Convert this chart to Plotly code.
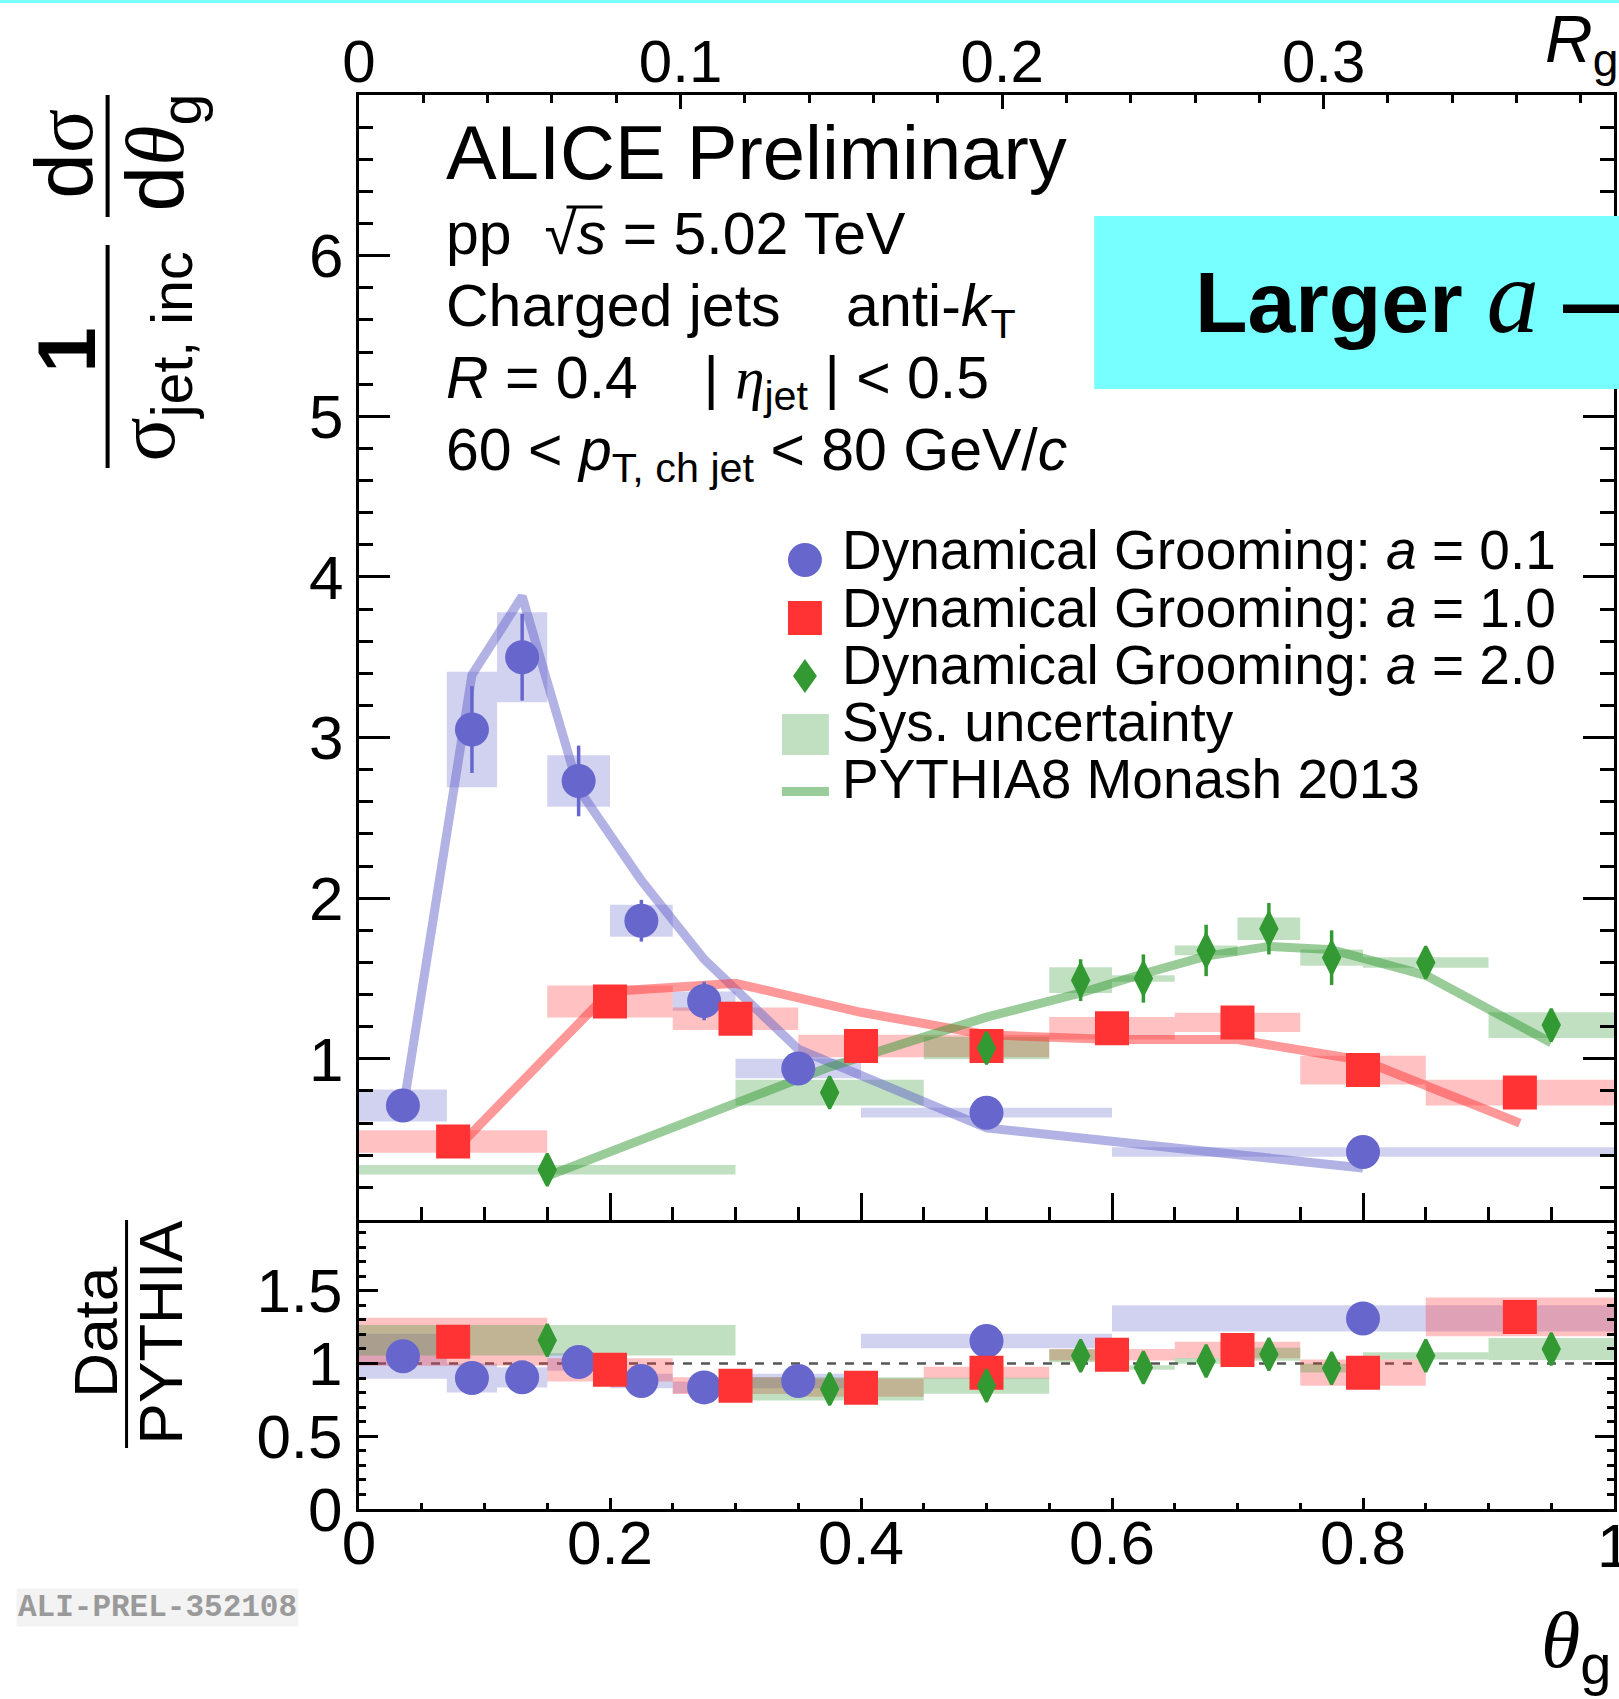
import plotly.graph_objects as go

# ---------------- data ----------------
# a = 0.1 (dynamical grooming)
blue_edges = [0.0, 0.07, 0.11, 0.15, 0.20, 0.25, 0.30, 0.40, 0.60, 1.00]
blue_val = [0.71, 3.05, 3.50, 2.73, 1.86, 1.36, 0.94, 0.665, 0.42]
blue_stat = [0.03, 0.27, 0.27, 0.22, 0.13, 0.12, 0.05, 0.03, 0.02]
blue_sys = [0.10, 0.36, 0.28, 0.16, 0.10, 0.06, 0.06, 0.03, 0.03]
blue_pythia = [0.68, 3.39, 3.88, 2.68, 2.11, 1.62, 1.06, 0.57, 0.32]
blue_ratio = [1.05, 0.90, 0.905, 1.01, 0.88, 0.836, 0.88, 1.155, 1.31]
blue_ratio_sys = [0.155, 0.10, 0.07, 0.06, 0.05, 0.04, 0.05, 0.05, 0.09]

# a = 1.0
red_edges = [0.0, 0.15, 0.25, 0.35, 0.45, 0.55, 0.65, 0.75, 0.85, 1.00]
red_val = [0.485, 1.357, 1.25, 1.08, 1.08, 1.19, 1.227, 0.93, 0.79]
red_stat = [0.02, 0.03, 0.03, 0.03, 0.03, 0.03, 0.03, 0.03, 0.03]
red_sys = [0.07, 0.10, 0.07, 0.07, 0.07, 0.07, 0.06, 0.09, 0.08]
red_pythia = [0.42, 1.42, 1.47, 1.29, 1.15, 1.12, 1.12, 0.99, 0.60]
red_ratio = [1.15, 0.957, 0.848, 0.834, 0.937, 1.06, 1.093, 0.937, 1.32]
red_ratio_sys = [0.165, 0.08, 0.057, 0.063, 0.04, 0.04, 0.057, 0.09, 0.133]

# a = 2.0
green_edges = [0.0, 0.30, 0.45, 0.55, 0.60, 0.65, 0.70, 0.75, 0.80, 0.90, 1.00]
green_val = [0.31, 0.79, 1.068, 1.49, 1.50, 1.675, 1.81, 1.63, 1.60, 1.21]
green_stat = [0.02, 0.04, 0.05, 0.13, 0.15, 0.16, 0.16, 0.17, 0.06, 0.10]
green_sys = [0.03, 0.08, 0.07, 0.08, 0.02, 0.03, 0.07, 0.05, 0.033, 0.08]
green_pythia = [0.27, 0.95, 1.26, 1.41, 1.53, 1.64, 1.70, 1.68, 1.52, 1.10]
green_ratio = [1.16, 0.825, 0.848, 1.053, 0.973, 1.018, 1.064, 0.968, 1.053, 1.10]
green_ratio_sys = [0.105, 0.08, 0.055, 0.045, 0.015, 0.02, 0.045, 0.03, 0.025, 0.075]

legend_labels = ["Dynamical Grooming: <i>a</i> = 0.1",
                 "Dynamical Grooming: <i>a</i> = 1.0",
                 "Dynamical Grooming: <i>a</i> = 2.0",
                 "Sys. uncertainty",
                 "PYTHIA8 Monash 2013"]

x_ticks = [0, 0.2, 0.4, 0.6, 0.8]
x_last_tick = 1.0
main_y_ticks = [1, 2, 3, 4, 5, 6]
ratio_y_ticks = [0, 0.5, 1, 1.5]

# ---------------- geometry helpers ----------------
W, H = 1619, 1699
ML, MR, MT, MB = 359, 2, 95, 190
PW = W - ML - MR
PH = H - MT - MB
SPLIT = (H - MB - 1219.5) / PH   # boundary between main and ratio panels

SANS = "Liberation Sans, Arial, Helvetica, sans-serif"
SERIF_SPAN = '<span style="font-family:Liberation Serif">'


def px(x):
    return (x - ML) / PW


def py(y):
    return (H - MB - y) / PH


def centers(edges):
    return [(a + b) / 2 for a, b in zip(edges[:-1], edges[1:])]


def widths(edges):
    return [b - a for a, b in zip(edges[:-1], edges[1:])]


series = [
    dict(edges=blue_edges, val=blue_val, stat=blue_stat, sys=blue_sys, py=blue_pythia,
         ratio=blue_ratio, rsys=blue_ratio_sys, color="#6666CC",
         box="rgba(102,102,204,0.30)", line="rgba(102,102,204,0.50)",
         symbol="circle", size=34, edge=0),
    dict(edges=red_edges, val=red_val, stat=red_stat, sys=red_sys, py=red_pythia,
         ratio=red_ratio, rsys=red_ratio_sys, color="#FF3333",
         box="rgba(255,51,51,0.30)", line="rgba(255,51,51,0.50)",
         symbol="square", size=34, edge=0),
    dict(edges=green_edges, val=green_val, stat=green_stat, sys=green_sys, py=green_pythia,
         ratio=green_ratio, rsys=green_ratio_sys, color="#339933",
         box="rgba(51,153,51,0.30)", line="rgba(51,153,51,0.50)",
         symbol="diamond-tall", size=23, edge=3),
]

fig = go.Figure()

# systematic boxes (bars spanning each bin)
for s in series:
    c, w = centers(s["edges"]), widths(s["edges"])
    fig.add_trace(go.Bar(
        x=c, width=w, base=[v - e for v, e in zip(s["val"], s["sys"])],
        y=[2 * e for e in s["sys"]], marker=dict(color=s["box"], line=dict(width=0)),
        xaxis="x", yaxis="y", showlegend=False, hoverinfo="skip"))
    fig.add_trace(go.Bar(
        x=c, width=w, base=[v - e for v, e in zip(s["ratio"], s["rsys"])],
        y=[2 * e for e in s["rsys"]], marker=dict(color=s["box"], line=dict(width=0)),
        xaxis="x2", yaxis="y2", showlegend=False, hoverinfo="skip"))

# PYTHIA curves
for s in series:
    fig.add_trace(go.Scatter(
        x=centers(s["edges"]), y=s["py"], mode="lines",
        line=dict(color=s["line"], width=9), xaxis="x", yaxis="y",
        showlegend=False, hoverinfo="skip"))

# data points
for s in series:
    c = centers(s["edges"])
    mk = dict(symbol=s["symbol"], size=s["size"], color=s["color"],
              line=dict(width=s["edge"], color=s["color"]))
    fig.add_trace(go.Scatter(
        x=c, y=s["val"], mode="markers", marker=mk,
        error_y=dict(type="data", array=s["stat"], color=s["color"], thickness=3.5, width=0),
        xaxis="x", yaxis="y", showlegend=False))
    fig.add_trace(go.Scatter(
        x=c, y=s["ratio"], mode="markers", marker=mk,
        xaxis="x2", yaxis="y2", showlegend=False))

# overlay axis carrying the R_g scale
fig.add_trace(go.Scatter(x=[0, 0.39], y=[None, None], xaxis="x3", yaxis="y",
                         mode="lines", showlegend=False, hoverinfo="skip"))

tickfont = dict(family=SANS, size=62, color="black")
minor_common = dict(ticks="inside", tickcolor="black", tickwidth=2.5, showgrid=False)

fig.update_layout(
    width=W, height=H,
    margin=dict(l=ML, r=MR, t=MT, b=MB),
    paper_bgcolor="white", plot_bgcolor="white",
    barmode="overlay", showlegend=False,
    font=dict(family=SANS, color="black"),
    xaxis=dict(domain=[0, 1], range=[0, 1], anchor="y", showline=True, linewidth=3,
               linecolor="black", ticks="inside", ticklen=27, tickwidth=2.5,
               tickcolor="black", dtick=0.2, tick0=0, showticklabels=False,
               showgrid=False, zeroline=False,
               minor=dict(dtick=0.05, tick0=0, ticklen=13, **minor_common)),
    xaxis3=dict(range=[0, 0.3903], overlaying="x", anchor="y", side="top",
                showline=True, linewidth=3, linecolor="black", ticks="inside",
                ticklen=14, tickwidth=2.5, tickcolor="black", dtick=0.1, tick0=0,
                tickfont=dict(family=SANS, size=60, color="black"), ticklabelstandoff=-14,
                showgrid=False, zeroline=False,
                minor=dict(dtick=0.02, tick0=0, ticklen=8, **minor_common)),
    yaxis=dict(domain=[SPLIT, 1], range=[0, 7], anchor="x", showline=True, linewidth=3,
               linecolor="black", mirror="ticks", ticks="inside", ticklen=31,
               tickwidth=2.5, tickcolor="black", tickvals=main_y_ticks,
               tickfont=tickfont, ticklabelstandoff=0, showgrid=False, zeroline=False,
               minor=dict(dtick=0.2, tick0=0, ticklen=14, **minor_common)),
    xaxis2=dict(domain=[0, 1], range=[0, 1], anchor="y2", showline=True, linewidth=3,
                linecolor="black", ticks="inside", ticklen=11, tickwidth=2.5,
                tickcolor="black", tickvals=x_ticks, tickfont=tickfont,
                ticklabelstandoff=-22, showgrid=False, zeroline=False,
                minor=dict(dtick=0.05, tick0=0, ticklen=6, **minor_common)),
    yaxis2=dict(domain=[0, SPLIT], range=[0, 1.99], anchor="x2", showline=True,
                linewidth=3, linecolor="black", mirror="ticks", ticks="inside",
                ticklen=19, tickwidth=2.5, tickcolor="black", tickvals=ratio_y_ticks,
                tickfont=tickfont, ticklabelstandoff=1, showgrid=False, zeroline=False,
                minor=dict(dtick=0.1, tick0=0, ticklen=7, **minor_common)),
)

shapes = []
annotations = []


def text(t, x, y, size, xanchor="left", yanchor="top", angle=0, family=SANS,
         color="black", **kw):
    annotations.append(dict(text=t, x=px(x), y=py(y), xref="paper", yref="paper",
                            xanchor=xanchor, yanchor=yanchor, showarrow=False,
                            textangle=angle, font=dict(family=family, size=size, color=color),
                            **kw))


def pline(x0, y0, x1, y1, color="black", width=3):
    shapes.append(dict(type="line", xref="paper", yref="paper", x0=px(x0), y0=py(y0),
                       x1=px(x1), y1=py(y1), line=dict(color=color, width=width)))


# last bottom tick label, sitting on the right edge of the frame
annotations.append(dict(text=f"{x_last_tick:g}", x=x_last_tick, xref="x2", y=py(1545),
                        yref="paper", xanchor="center", yanchor="middle", showarrow=False,
                        font=tickfont))

# ratio reference line
shapes.append(dict(type="line", xref="x2", yref="y2", x0=0, x1=1, y0=1, y1=1,
                   line=dict(color="#555555", width=2.5, dash="dash"), layer="below"))

# cyan strip at top and the "Larger a" banner
shapes.append(dict(type="rect", xref="paper", yref="paper", x0=px(-5), x1=px(W + 5),
                   y0=py(3), y1=py(-5), fillcolor="#77FFFF", line=dict(width=0)))
shapes.append(dict(type="rect", xref="paper", yref="paper", x0=px(1096), x1=px(W + 5),
                   y0=py(389), y1=py(216), fillcolor="#77FFFF", line=dict(width=0),
                   layer="above"))
text('<b>Larger</b> <span style="font-family:Liberation Serif;font-size:105px"><i>a</i></span> <b>—</b>',
     1195, 236, 86)

# header text
text("ALICE Preliminary", 444, 108, 76)
NB = "\u00a0"
text(f"pp{NB}{NB}√<i>s</i> = 5.02 TeV", 444, 199, 59)
pline(567, 207, 603, 207, width=3)          # overline of the square root
text(f"Charged jets{NB}{NB}{NB} anti-<i>k</i><sub>T</sub>", 444, 271, 59)
text(f"<i>R</i> = 0.4{NB}{NB}{NB} | {SERIF_SPAN}<i>η</i></span><sub>jet</sub> | &lt; 0.5",
     444, 343, 59)
text("60 &lt; <i>p</i><sub>T, ch jet</sub> &lt; 80 GeV/<i>c</i>", 444, 415, 59)

# legend
leg_base = [567, 624.3, 681.6, 738.9, 796.2]
for lab, b in zip(legend_labels, leg_base):
    text(lab, 841, b - 0.905 * 55, 55)
shapes.append(dict(type="circle", xref="paper", yref="paper", x0=px(789), x1=px(823),
                   y0=py(577), y1=py(543), fillcolor="#6666CC", line=dict(width=0)))
shapes.append(dict(type="rect", xref="paper", yref="paper", x0=px(789), x1=px(823),
                   y0=py(635), y1=py(601), fillcolor="#FF3333", line=dict(width=0)))
shapes.append(dict(type="path", xref="paper", yref="paper",
                   path=(f"M {px(806)} {py(659)} L {px(818)} {py(676)} "
                         f"L {px(806)} {py(693)} L {px(794)} {py(676)} Z"),
                   fillcolor="#339933", line=dict(width=0)))
shapes.append(dict(type="rect", xref="paper", yref="paper", x0=px(783), x1=px(830),
                   y0=py(755), y1=py(714), fillcolor="rgba(51,153,51,0.30)",
                   line=dict(width=0)))
pline(783, 791.5, 830, 791.5, color="rgba(51,153,51,0.50)", width=9)

# axis titles
text(f"d{SERIF_SPAN}σ</span>", 63, 154, 82, xanchor="center", yanchor="middle", angle=-90)
text(f"d{SERIF_SPAN}<i>θ</i></span><sub>g</sub>", 160, 152, 82,
     xanchor="center", yanchor="middle", angle=-90)
text("<b>1</b>", 66, 350, 82, xanchor="center", yanchor="middle", angle=-90)
text(f"{SERIF_SPAN}σ</span><sub>jet, inc</sub>", 152, 356, 82,
     xanchor="center", yanchor="middle", angle=-90)
pline(107, 95, 107, 217, width=4)
pline(107, 245, 107, 468, width=4)

text("Data", 94, 1332, 62, xanchor="center", yanchor="middle", angle=-90)
text("PYTHIA", 160, 1332, 62, xanchor="center", yanchor="middle", angle=-90)
pline(126, 1220, 126, 1448, width=3)

text(f"{SERIF_SPAN}<i>θ</i></span><sub>g</sub>", 1542, 1594, 80)
text("<i>R</i><sub>g</sub>", 1546, 0, 66)

# preliminary figure tag
text("<b>ALI-PREL-352108</b>", 15, 1588, 31, family="Liberation Mono, Courier New, monospace",
     color="#9A9A9A", bgcolor="#F3F3F3")

fig.update_layout(shapes=shapes, annotations=annotations)
fig.write_html("out.html")
